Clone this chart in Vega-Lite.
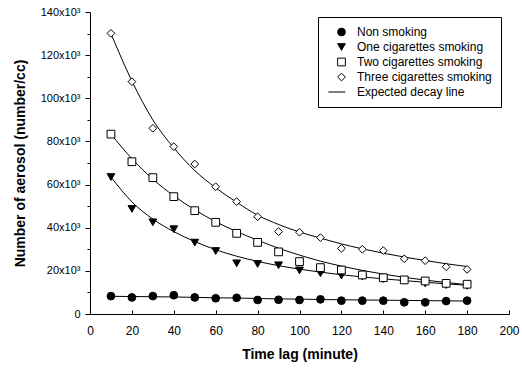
{
  "$schema": "https://vega.github.io/schema/vega-lite/v6.json",
  "width": 419,
  "height": 302,
  "autosize": {"type": "none"},
  "padding": {"left": 90, "top": 12, "right": 13, "bottom": 58},
  "background": "white",
  "config": {
    "view": {"stroke": null},
    "font": "Liberation Sans",
    "axis": {"grid": false, "domainColor": "black", "tickColor": "black", "labelColor": "black", "titleColor": "black", "labelFont": "Liberation Sans", "labelFontSize": 11, "titleFont": "Liberation Sans", "titleFontSize": 14, "titleFontWeight": "bold", "labelFlush": false}
  },
  "datasets": {
    "obs": [
      {"series": "Non smoking", "t": 10, "v": 8300}, {"series": "Non smoking", "t": 20, "v": 7700}, {"series": "Non smoking", "t": 30, "v": 8300}, {"series": "Non smoking", "t": 40, "v": 8700}, {"series": "Non smoking", "t": 50, "v": 7700}, {"series": "Non smoking", "t": 60, "v": 7300}, {"series": "Non smoking", "t": 70, "v": 7500}, {"series": "Non smoking", "t": 80, "v": 6500}, {"series": "Non smoking", "t": 90, "v": 6600}, {"series": "Non smoking", "t": 100, "v": 6500}, {"series": "Non smoking", "t": 110, "v": 6800}, {"series": "Non smoking", "t": 120, "v": 6200}, {"series": "Non smoking", "t": 130, "v": 6200}, {"series": "Non smoking", "t": 140, "v": 6200}, {"series": "Non smoking", "t": 150, "v": 5400}, {"series": "Non smoking", "t": 160, "v": 5400}, {"series": "Non smoking", "t": 170, "v": 6000}, {"series": "Non smoking", "t": 180, "v": 6200},
      {"series": "One cigarettes smoking", "t": 10, "v": 63500}, {"series": "One cigarettes smoking", "t": 20, "v": 48700}, {"series": "One cigarettes smoking", "t": 30, "v": 42500}, {"series": "One cigarettes smoking", "t": 40, "v": 39300}, {"series": "One cigarettes smoking", "t": 50, "v": 33100}, {"series": "One cigarettes smoking", "t": 60, "v": 29200}, {"series": "One cigarettes smoking", "t": 70, "v": 23500}, {"series": "One cigarettes smoking", "t": 80, "v": 23200}, {"series": "One cigarettes smoking", "t": 90, "v": 22600}, {"series": "One cigarettes smoking", "t": 100, "v": 20200}, {"series": "One cigarettes smoking", "t": 110, "v": 18900}, {"series": "One cigarettes smoking", "t": 120, "v": 17800}, {"series": "One cigarettes smoking", "t": 130, "v": 17300}, {"series": "One cigarettes smoking", "t": 140, "v": 16200}, {"series": "One cigarettes smoking", "t": 150, "v": 15500}, {"series": "One cigarettes smoking", "t": 160, "v": 14200}, {"series": "One cigarettes smoking", "t": 170, "v": 13400}, {"series": "One cigarettes smoking", "t": 180, "v": 13000},
      {"series": "Two cigarettes smoking", "t": 10, "v": 83400}, {"series": "Two cigarettes smoking", "t": 20, "v": 70600}, {"series": "Two cigarettes smoking", "t": 30, "v": 63200}, {"series": "Two cigarettes smoking", "t": 40, "v": 54400}, {"series": "Two cigarettes smoking", "t": 50, "v": 47900}, {"series": "Two cigarettes smoking", "t": 60, "v": 42500}, {"series": "Two cigarettes smoking", "t": 70, "v": 37400}, {"series": "Two cigarettes smoking", "t": 80, "v": 33200}, {"series": "Two cigarettes smoking", "t": 90, "v": 28800}, {"series": "Two cigarettes smoking", "t": 100, "v": 24300}, {"series": "Two cigarettes smoking", "t": 110, "v": 21500}, {"series": "Two cigarettes smoking", "t": 120, "v": 20400}, {"series": "Two cigarettes smoking", "t": 130, "v": 18100}, {"series": "Two cigarettes smoking", "t": 140, "v": 16800}, {"series": "Two cigarettes smoking", "t": 150, "v": 15800}, {"series": "Two cigarettes smoking", "t": 160, "v": 15300}, {"series": "Two cigarettes smoking", "t": 170, "v": 14200}, {"series": "Two cigarettes smoking", "t": 180, "v": 13800},
      {"series": "Three cigarettes smoking", "t": 10, "v": 130100}, {"series": "Three cigarettes smoking", "t": 20, "v": 107700}, {"series": "Three cigarettes smoking", "t": 30, "v": 86100}, {"series": "Three cigarettes smoking", "t": 40, "v": 77600}, {"series": "Three cigarettes smoking", "t": 50, "v": 69500}, {"series": "Three cigarettes smoking", "t": 60, "v": 59000}, {"series": "Three cigarettes smoking", "t": 70, "v": 52100}, {"series": "Three cigarettes smoking", "t": 80, "v": 45100}, {"series": "Three cigarettes smoking", "t": 90, "v": 38200}, {"series": "Three cigarettes smoking", "t": 100, "v": 37900}, {"series": "Three cigarettes smoking", "t": 110, "v": 35400}, {"series": "Three cigarettes smoking", "t": 120, "v": 30400}, {"series": "Three cigarettes smoking", "t": 130, "v": 30000}, {"series": "Three cigarettes smoking", "t": 140, "v": 29400}, {"series": "Three cigarettes smoking", "t": 150, "v": 25600}, {"series": "Three cigarettes smoking", "t": 160, "v": 24700}, {"series": "Three cigarettes smoking", "t": 170, "v": 21900}, {"series": "Three cigarettes smoking", "t": 180, "v": 20700}
    ],
    "fit": [
      {"series": "Non smoking", "t": 10, "v": 8200}, {"series": "Non smoking", "t": 20, "v": 8100}, {"series": "Non smoking", "t": 30, "v": 8000}, {"series": "Non smoking", "t": 40, "v": 7900}, {"series": "Non smoking", "t": 50, "v": 7700}, {"series": "Non smoking", "t": 60, "v": 7500}, {"series": "Non smoking", "t": 70, "v": 7400}, {"series": "Non smoking", "t": 80, "v": 7200}, {"series": "Non smoking", "t": 90, "v": 7000}, {"series": "Non smoking", "t": 100, "v": 6900}, {"series": "Non smoking", "t": 110, "v": 6700}, {"series": "Non smoking", "t": 120, "v": 6600}, {"series": "Non smoking", "t": 130, "v": 6500}, {"series": "Non smoking", "t": 140, "v": 6400}, {"series": "Non smoking", "t": 150, "v": 6300}, {"series": "Non smoking", "t": 160, "v": 6200}, {"series": "Non smoking", "t": 170, "v": 6100}, {"series": "Non smoking", "t": 180, "v": 6000},
      {"series": "One cigarettes smoking", "t": 10, "v": 63500}, {"series": "One cigarettes smoking", "t": 20, "v": 52000}, {"series": "One cigarettes smoking", "t": 30, "v": 44000}, {"series": "One cigarettes smoking", "t": 40, "v": 38200}, {"series": "One cigarettes smoking", "t": 50, "v": 33600}, {"series": "One cigarettes smoking", "t": 60, "v": 29800}, {"series": "One cigarettes smoking", "t": 70, "v": 26800}, {"series": "One cigarettes smoking", "t": 80, "v": 24400}, {"series": "One cigarettes smoking", "t": 90, "v": 22400}, {"series": "One cigarettes smoking", "t": 100, "v": 20800}, {"series": "One cigarettes smoking", "t": 110, "v": 19400}, {"series": "One cigarettes smoking", "t": 120, "v": 18200}, {"series": "One cigarettes smoking", "t": 130, "v": 17200}, {"series": "One cigarettes smoking", "t": 140, "v": 16300}, {"series": "One cigarettes smoking", "t": 150, "v": 15500}, {"series": "One cigarettes smoking", "t": 160, "v": 14700}, {"series": "One cigarettes smoking", "t": 170, "v": 14000}, {"series": "One cigarettes smoking", "t": 180, "v": 13300},
      {"series": "Two cigarettes smoking", "t": 10, "v": 83400}, {"series": "Two cigarettes smoking", "t": 20, "v": 72000}, {"series": "Two cigarettes smoking", "t": 30, "v": 62500}, {"series": "Two cigarettes smoking", "t": 40, "v": 54800}, {"series": "Two cigarettes smoking", "t": 50, "v": 48300}, {"series": "Two cigarettes smoking", "t": 60, "v": 42800}, {"series": "Two cigarettes smoking", "t": 70, "v": 38200}, {"series": "Two cigarettes smoking", "t": 80, "v": 34200}, {"series": "Two cigarettes smoking", "t": 90, "v": 30500}, {"series": "Two cigarettes smoking", "t": 100, "v": 27300}, {"series": "Two cigarettes smoking", "t": 110, "v": 24500}, {"series": "Two cigarettes smoking", "t": 120, "v": 22200}, {"series": "Two cigarettes smoking", "t": 130, "v": 20200}, {"series": "Two cigarettes smoking", "t": 140, "v": 18500}, {"series": "Two cigarettes smoking", "t": 150, "v": 17000}, {"series": "Two cigarettes smoking", "t": 160, "v": 15700}, {"series": "Two cigarettes smoking", "t": 170, "v": 14600}, {"series": "Two cigarettes smoking", "t": 180, "v": 13600},
      {"series": "Three cigarettes smoking", "t": 10, "v": 130000}, {"series": "Three cigarettes smoking", "t": 20, "v": 108000}, {"series": "Three cigarettes smoking", "t": 30, "v": 90000}, {"series": "Three cigarettes smoking", "t": 40, "v": 77000}, {"series": "Three cigarettes smoking", "t": 50, "v": 66500}, {"series": "Three cigarettes smoking", "t": 60, "v": 58500}, {"series": "Three cigarettes smoking", "t": 70, "v": 51800}, {"series": "Three cigarettes smoking", "t": 80, "v": 45800}, {"series": "Three cigarettes smoking", "t": 90, "v": 41500}, {"series": "Three cigarettes smoking", "t": 100, "v": 38000}, {"series": "Three cigarettes smoking", "t": 110, "v": 35200}, {"series": "Three cigarettes smoking", "t": 120, "v": 32500}, {"series": "Three cigarettes smoking", "t": 130, "v": 30200}, {"series": "Three cigarettes smoking", "t": 140, "v": 28200}, {"series": "Three cigarettes smoking", "t": 150, "v": 26400}, {"series": "Three cigarettes smoking", "t": 160, "v": 24800}, {"series": "Three cigarettes smoking", "t": 170, "v": 23300}, {"series": "Three cigarettes smoking", "t": 180, "v": 22000}
    ]
  },
  "encoding": {
    "x": {"field": "t", "type": "quantitative", "scale": {"domain": [0, 200], "nice": false},
      "axis": {"title": "Time lag (minute)", "values": [0, 20, 40, 60, 80, 100, 120, 140, 160, 180, 200], "tickSize": -4, "labelFontSize": 12, "labelPadding": 15, "titlePadding": 11}},
    "y": {"field": "v", "type": "quantitative", "scale": {"domain": [0, 140000], "nice": false},
      "axis": {"title": "Number of aerosol (number/cc)", "values": [0, 10000, 20000, 30000, 40000, 50000, 60000, 70000, 80000, 90000, 100000, 110000, 120000, 130000, 140000],
        "labelExpr": "datum.value % 20000 == 0 ? (datum.value == 0 ? '0' : (datum.value / 1000) + 'x10³') : ''",
        "tickSize": {"condition": {"test": "datum.value % 20000 == 0", "value": 5}, "value": 3},
        "labelPadding": 5, "titlePadding": 13}}
  },
  "layer": [
    {
      "data": {"name": "fit"},
      "mark": {"type": "line", "color": "black", "strokeWidth": 1, "interpolate": "monotone"},
      "encoding": {"detail": {"field": "series"}}
    },
    {
      "data": {"name": "obs"},
      "mark": {"type": "point", "opacity": 1, "strokeWidth": 1},
      "encoding": {
        "shape": {"field": "series", "type": "nominal",
          "scale": {"domain": ["Non smoking", "One cigarettes smoking", "Two cigarettes smoking", "Three cigarettes smoking", "Expected decay line"],
            "range": ["circle", "triangle-down", "square", "diamond", "M-3.4,0H1.0"]},
          "legend": {"orient": "none", "legendX": 228, "legendY": 5, "title": null, "strokeColor": "black", "fillColor": "white", "padding": 9, "rowPadding": 3, "labelFont": "Liberation Sans", "labelFontSize": 12, "labelColor": "black", "labelOffset": 9.5, "symbolOffset": 8.5, "symbolStrokeWidth": 1}},
        "fill": {"field": "series", "type": "nominal",
          "scale": {"domain": ["Non smoking", "One cigarettes smoking", "Two cigarettes smoking", "Three cigarettes smoking", "Expected decay line"],
            "range": ["black", "black", "white", "white", "transparent"]}},
        "stroke": {"field": "series", "type": "nominal",
          "scale": {"domain": ["Non smoking", "One cigarettes smoking", "Two cigarettes smoking", "Three cigarettes smoking", "Expected decay line"],
            "range": ["black", "black", "black", "black", "black"]}},
        "size": {"field": "series", "type": "nominal",
          "scale": {"domain": ["Non smoking", "One cigarettes smoking", "Two cigarettes smoking", "Three cigarettes smoking", "Expected decay line"],
            "range": [60, 60, 45, 80, 100]}}
      }
    }
  ]
}
